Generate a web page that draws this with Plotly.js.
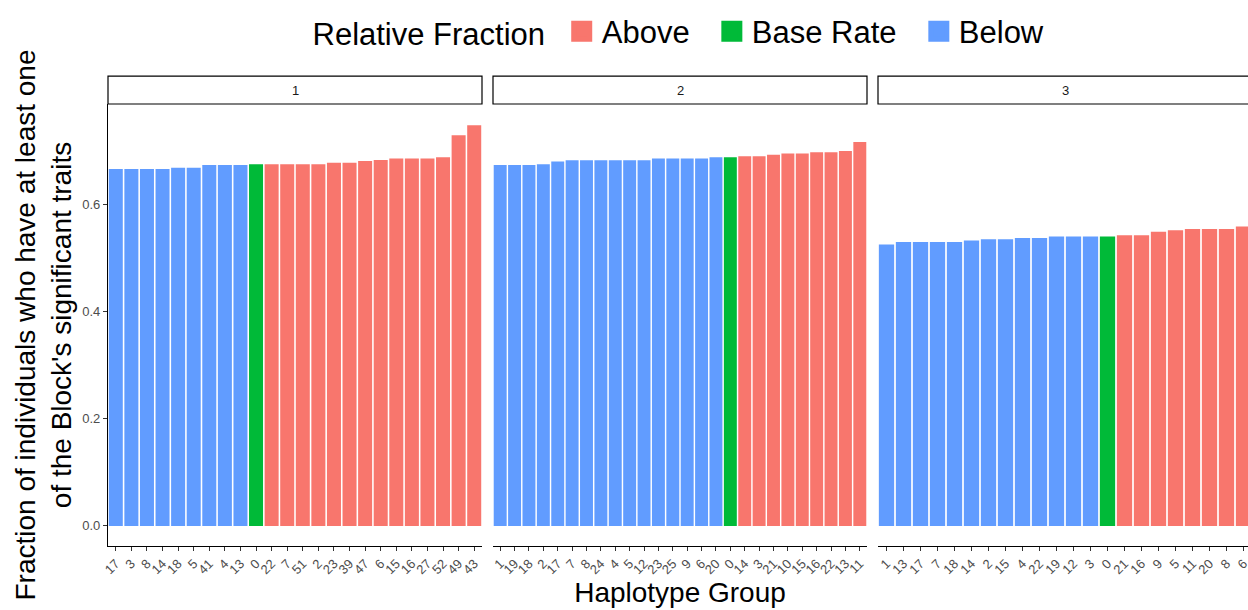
<!DOCTYPE html>
<html><head><meta charset="utf-8">
<script src="https://cdn.plot.ly/plotly-3.0.1.min.js"></script>
<style>html,body{margin:0;padding:0;overflow:hidden;background:#fff}#chart{width:1256px;height:610px}</style>
</head><body><div id="chart"></div>
<script>
// ---- data ----
const panelNames = ["1", "2", "3"];

const p1Haplotypes = ["17","3","8","14","18","5","41","4","13","0","22","7","51","2","23","39","47","6","15","16","27","52","49","43"];
const p1Fractions  = [0.666,0.666,0.666,0.666,0.6685,0.6685,0.6735,0.6735,0.6735,0.675,0.675,0.675,0.675,0.675,0.678,0.678,0.681,0.683,0.686,0.686,0.686,0.688,0.729,0.748];
const p1Groups     = ["Below","Below","Below","Below","Below","Below","Below","Below","Below","Base Rate","Above","Above","Above","Above","Above","Above","Above","Above","Above","Above","Above","Above","Above","Above"];

const p2Haplotypes = ["1","19","18","2","17","7","8","24","4","5","12","23","25","9","6","20","0","14","3","21","10","15","16","22","13","11"];
const p2Fractions  = [0.6735,0.6735,0.6735,0.675,0.680,0.6827,0.6827,0.6827,0.6827,0.6827,0.6827,0.686,0.686,0.686,0.686,0.688,0.688,0.690,0.690,0.6926,0.695,0.695,0.6975,0.6975,0.700,0.7167];
const p2Groups     = ["Below","Below","Below","Below","Below","Below","Below","Below","Below","Below","Below","Below","Below","Below","Below","Below","Base Rate","Above","Above","Above","Above","Above","Above","Above","Above","Above"];

const p3Haplotypes = ["1","13","17","7","18","14","2","15","4","22","19","12","3","0","21","16","9","5","11","20","8","6"];
const p3Fractions  = [0.5253,0.530,0.530,0.530,0.530,0.5327,0.535,0.535,0.5376,0.5376,0.540,0.540,0.540,0.540,0.5426,0.5426,0.549,0.552,0.5543,0.5543,0.5543,0.559];
const p3Groups     = ["Below","Below","Below","Below","Below","Below","Below","Below","Below","Below","Below","Below","Below","Base Rate","Above","Above","Above","Above","Above","Above","Above","Above"];

const legendGroups = ["Above", "Base Rate", "Below"];
const groupColors = {"Above": "#F8766D", "Base Rate": "#00BA38", "Below": "#619CFF"};

const yTickValues = [0, 0.2, 0.4, 0.6];

// ---- build ----
const panels = [
  {x: p1Haplotypes, y: p1Fractions, g: p1Groups, xa: "x"},
  {x: p2Haplotypes, y: p2Fractions, g: p2Groups, xa: "x2"},
  {x: p3Haplotypes, y: p3Fractions, g: p3Groups, xa: "x3"}
];

const traces = [];
panels.forEach((p, i) => {
  traces.push({
    type: "bar",
    x: p.x, y: p.y,
    xaxis: p.xa, yaxis: "y",
    marker: {color: p.g.map(g => groupColors[g]), line: {width: 0}},
    showlegend: false,
    hovertemplate: "Haplotype %{x}<br>%{y:.3f}<extra>Panel " + panelNames[i] + "</extra>"
  });
});
legendGroups.forEach((g, k) => {
  traces.push({
    type: "scatter", mode: "markers",
    x: [null], y: [null], xaxis: "x", yaxis: "y",
    name: k < legendGroups.length - 1 ? g + "\u00a0\u00a0" : g,
    marker: {symbol: "square", size: 16, color: groupColors[g], line: {color: groupColors[g], width: 5}},
    showlegend: true, hoverinfo: "skip"
  });
});

const W = 1256, H = 610;
const mL = 108, mR = 4, mT = 101, mB = 64;
const plotW = W - mL - mR, plotH = H - mT - mB;
const panelW = 374, gapW = 11;
function dom(i) { const a = i * (panelW + gapW); return [a / plotW, Math.min(1, (a + panelW) / plotW)]; }

const fontFam = "Liberation Sans, Arial, sans-serif";
function xAxisFor(cats, i, extra) {
  return Object.assign({
    type: "category", anchor: "y", domain: dom(i),
    categoryorder: "array", categoryarray: cats,
    tickmode: "array", tickvals: cats, ticktext: cats,
    showline: true, linecolor: "#000", linewidth: 1.1,
    ticks: "outside", ticklen: 4, tickwidth: 1, tickcolor: "#333",
    tickangle: -45,
    tickfont: {family: fontFam, size: 13, color: "#4D4D4D"},
    showgrid: false, zeroline: false, fixedrange: true
  }, extra || {});
}

const stripTop = 1 + 28 / plotH;
const shapes = [], annotations = [];
["x", "x2", "x3"].forEach((xa, i) => {
  shapes.push({type: "rect", xref: xa + " domain", yref: "paper", x0: 0, x1: 1, y0: 1, y1: stripTop,
    fillcolor: "#fff", line: {color: "#000", width: 1.2}});
  annotations.push({xref: xa + " domain", yref: "paper", x: 0.5, y: (1 + stripTop) / 2,
    text: panelNames[i], showarrow: false, xanchor: "center", yanchor: "middle",
    font: {family: fontFam, size: 13, color: "#1A1A1A"}});
});

const layout = {
  width: W, height: H,
  margin: {l: mL, r: mR, t: mT, b: mB, pad: 0},
  paper_bgcolor: "#fff", plot_bgcolor: "#fff",
  font: {family: fontFam, color: "#000"},
  bargap: 0.1,
  xaxis: xAxisFor(p1Haplotypes, 0),
  xaxis2: xAxisFor(p2Haplotypes, 1, {
    title: {text: "Haplotype Group", font: {family: fontFam, size: 28, color: "#000"}, standoff: 0}}),
  xaxis3: xAxisFor(p3Haplotypes, 2),
  yaxis: {
    domain: [0, 1], range: [-0.0375, 0.7875],
    tickvals: yTickValues, tickformat: ".1f",
    showline: true, linecolor: "#000", linewidth: 1.1,
    ticks: "outside", ticklen: 4, tickwidth: 1, tickcolor: "#333",
    tickfont: {family: fontFam, size: 13, color: "#4D4D4D"},
    showgrid: false, zeroline: false, fixedrange: true,
    title: {text: "Fraction of individuals who have at least one<br>of the Block's significant traits",
      font: {family: fontFam, size: 28, color: "#000"}, standoff: 2}
  },
  legend: {
    orientation: "h", x: 0.5, xanchor: "center", y: 1 + (mT - 28) / plotH, yanchor: "middle",
    title: {text: "Relative Fraction\u00a0", side: "left", font: {family: fontFam, size: 31, color: "#000"}},
    font: {family: fontFam, size: 31, color: "#000"},
    itemsizing: "trace", bgcolor: "rgba(0,0,0,0)"
  },
  shapes: shapes,
  annotations: annotations
};

Plotly.newPlot("chart", traces, layout, {displayModeBar: false, staticPlot: false, responsive: false});
</script>
</body></html>
